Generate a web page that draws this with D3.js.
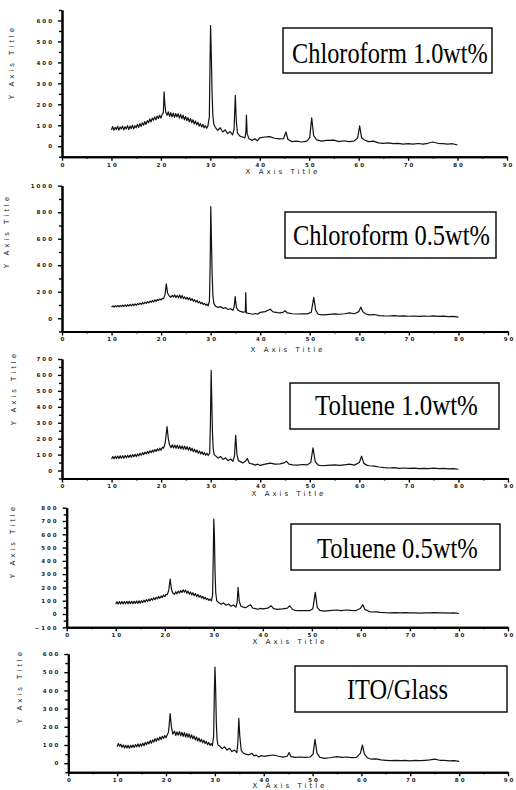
<!DOCTYPE html>
<html>
<head>
<meta charset="utf-8">
<script src="https://cdn.jsdelivr.net/npm/d3@7"></script>
<style>
  body { margin: 0; background: #fff; }
  svg { display: block; }
  .axis text { font-family: 'DejaVu Sans', sans-serif; font-size: 5.5px; font-weight: bold; fill: #222; letter-spacing: 2px; }
  .axis path.domain { stroke: #000; stroke-width: 2; }
  .axis .tick line { stroke: #000; stroke-width: 1.4; }
  .trace { fill: none; stroke: #111; stroke-width: 1.2; stroke-linejoin: round; }
  .title { font-family: 'DejaVu Sans', sans-serif; font-size: 7px; fill: #222; letter-spacing: 3px; }
  .legend-box { fill: none; stroke: #111; stroke-width: 1.5; }
  .legend-text { font-family: 'Liberation Serif', 'Times New Roman', serif; font-size: 29px; fill: #000; }
</style>
</head>
<body>
<svg id="chart" width="516" height="790"></svg>
<script>
// sample names, top to bottom
const sampleLabels = ['Chloroform 1.0wt%', 'Chloroform 0.5wt%', 'Toluene 1.0wt%', 'Toluene 0.5wt%', 'ITO/Glass']

// XRD patterns: [2theta, counts]
const chloroform10 = [[10,78],[10.25,94],[10.5,76],[10.75,90],[11,80],[11.25,95],[11.5,77],[11.75,92],[12,82],[12.25,96],[12.5,78],[12.75,93],[13,83],[13.25,98],[13.5,80],[13.75,96],[14,84],[14.25,100],[14.5,83],[14.75,98],[15,88],[15.25,104],[15.5,90],[15.75,108],[16,94],[16.25,112],[16.5,100],[16.75,118],[17,104],[17.25,122],[17.5,112],[17.75,130],[18,116],[18.25,134],[18.5,124],[18.75,140],[19,126],[19.25,144],[19.5,132],[19.75,148],[20,134],[20.25,152],[20.5,160],[20.65,259],[20.8,200],[21,162],[21.25,148],[21.5,164],[21.75,142],[22,160],[22.25,140],[22.5,158],[22.75,138],[23,156],[23.25,140],[23.5,155],[23.75,134],[24,152],[24.25,132],[24.5,148],[24.75,126],[25,142],[25.25,122],[25.5,136],[25.75,116],[26,132],[26.25,112],[26.5,126],[26.75,106],[27,120],[27.25,102],[27.5,114],[27.75,96],[28,108],[28.25,92],[28.5,104],[28.75,88],[29,98],[29.25,86],[29.5,96],[29.8,140],[29.95,420],[30.05,576],[30.2,430],[30.35,260],[30.5,150],[30.7,105],[31,90],[31.5,76],[32,88],[32.5,68],[33,78],[33.5,60],[34,70],[34.5,54],[34.8,80],[35.05,243],[35.25,120],[35.5,62],[36,48],[36.5,44],[37,40],[37.2,70],[37.3,148],[37.45,60],[37.8,36],[38.5,28],[39,36],[39.5,26],[40,40],[41,44],[42,46],[43,38],[44,35],[44.8,36],[45.3,68],[45.7,32],[46.5,22],[47.5,24],[48.5,20],[49.5,24],[50.1,40],[50.5,135],[50.9,50],[51.5,30],[52.5,24],[53.5,28],[55,29],[56,22],[57,26],[58,22],[59,24],[59.8,40],[60.2,97],[60.6,40],[61.2,30],[62,22],[63,24],[64,16],[65,14],[66,16],[67,12],[68,14],[69,10],[70,12],[71,10],[72,13],[73,10],[74,14],[75,20],[76,14],[77,12],[78,10],[79,12],[80,6]]

const chloroform05 = [[10,84],[10.25,94],[10.5,84],[10.75,95],[11,86],[11.25,96],[11.5,86],[11.75,97],[12,88],[12.25,98],[12.5,89],[12.75,100],[13,90],[13.25,102],[13.5,92],[13.75,104],[14,94],[14.25,106],[14.5,96],[14.75,108],[15,98],[15.25,110],[15.5,102],[15.75,114],[16,104],[16.25,118],[16.5,108],[16.75,122],[17,112],[17.25,126],[17.5,116],[17.75,130],[18,120],[18.25,134],[18.5,124],[18.75,138],[19,128],[19.25,142],[19.5,134],[19.75,146],[20,138],[20.25,150],[20.5,148],[20.8,180],[21.05,259],[21.3,190],[21.6,170],[22,158],[22.25,174],[22.5,160],[22.75,176],[23,156],[23.25,172],[23.5,154],[23.75,176],[24,150],[24.25,172],[24.5,148],[24.75,162],[25,144],[25.25,158],[25.5,140],[25.75,154],[26,134],[26.25,148],[26.5,128],[26.75,140],[27,122],[27.25,134],[27.5,116],[27.75,126],[28,110],[28.25,120],[28.5,104],[28.75,112],[29,98],[29.25,106],[29.5,94],[29.75,130],[29.9,400],[30.02,842],[30.15,600],[30.3,330],[30.45,170],[30.65,110],[31,90],[31.5,82],[32,88],[32.5,74],[33,80],[33.5,66],[34,72],[34.5,60],[34.75,90],[34.95,163],[35.2,80],[35.6,58],[36,52],[36.5,46],[37,48],[37.08,193],[37.2,40],[37.8,36],[38.5,30],[39,36],[39.5,30],[40,45],[41,50],[42,68],[42.6,48],[43.5,42],[44,40],[44.6,44],[45,57],[45.5,40],[46.5,34],[47.5,32],[48.5,34],[49.5,33],[50.3,45],[50.8,158],[51.2,60],[51.7,30],[52.5,25],[53.5,28],[55,33],[56,30],[57,34],[58,40],[59,34],[59.9,50],[60.3,83],[60.7,50],[61.2,34],[62,25],[63,28],[64,20],[65,18],[66,17],[67,20],[68,16],[69,18],[70,15],[71,17],[72,14],[73,16],[74,15],[75,18],[76,14],[77,16],[78,12],[79,14],[80,8]]

const toluene10 = [[10,72],[10.25,88],[10.5,74],[10.75,90],[11,75],[11.25,91],[11.5,76],[11.75,92],[12,77],[12.25,93],[12.5,78],[12.75,94],[13,80],[13.25,96],[13.5,82],[13.75,98],[14,84],[14.25,100],[14.5,86],[14.75,102],[15,88],[15.25,104],[15.5,92],[15.75,108],[16,96],[16.25,112],[16.5,100],[16.75,116],[17,104],[17.25,120],[17.5,108],[17.75,124],[18,112],[18.25,128],[18.5,116],[18.75,132],[19,120],[19.25,136],[19.5,124],[19.75,140],[20,128],[20.25,146],[20.5,140],[20.8,170],[21.2,275],[21.45,200],[21.7,160],[22,144],[22.25,162],[22.5,142],[22.75,160],[23,140],[23.25,158],[23.5,138],[23.75,156],[24,136],[24.25,154],[24.5,134],[24.75,152],[25,132],[25.25,150],[25.5,128],[25.75,146],[26,124],[26.25,140],[26.5,118],[26.75,134],[27,114],[27.25,128],[27.5,108],[27.75,122],[28,104],[28.25,118],[28.5,100],[28.75,112],[29,96],[29.25,108],[29.5,94],[29.8,110],[29.95,300],[30.1,628],[30.22,450],[30.35,250],[30.5,140],[30.7,100],[31,92],[31.5,78],[32,88],[32.5,70],[33,80],[33.5,62],[34,72],[34.5,58],[34.8,90],[35.05,221],[35.3,100],[35.6,62],[36,56],[36.5,48],[37,58],[37.4,75],[37.8,46],[38.5,40],[39,34],[39.5,40],[40,32],[41,40],[42,47],[43,40],[44,42],[44.8,48],[45.3,58],[45.8,40],[46.5,36],[47.5,34],[48.5,38],[49.5,36],[50.2,50],[50.65,143],[51.1,55],[51.7,34],[52.5,30],[53.5,32],[55,36],[56,32],[57,36],[58,40],[59,34],[60,50],[60.45,90],[60.9,45],[61.5,34],[62,30],[63,28],[64,22],[65,18],[66,16],[67,18],[68,14],[69,16],[70,13],[71,15],[72,12],[73,14],[74,12],[75,15],[76,12],[77,14],[78,10],[79,12],[80,8]]

const toluene05 = [[10,74],[10.25,92],[10.5,76],[10.75,94],[11,76],[11.25,94],[11.5,76],[11.75,94],[12,77],[12.25,95],[12.5,77],[12.75,95],[13,78],[13.25,96],[13.5,78],[13.75,96],[14,80],[14.25,98],[14.5,80],[14.75,99],[15,82],[15.25,100],[15.5,86],[15.75,104],[16,90],[16.25,108],[16.5,94],[16.75,112],[17,98],[17.25,116],[17.5,104],[17.75,122],[18,108],[18.25,126],[18.5,114],[18.75,132],[19,118],[19.25,136],[19.5,124],[19.75,142],[20,130],[20.25,148],[20.5,146],[20.8,175],[21.1,263],[21.35,190],[21.6,160],[22,148],[22.25,168],[22.5,152],[22.75,172],[23,158],[23.25,176],[23.5,162],[23.75,182],[24,164],[24.25,180],[24.5,156],[24.75,172],[25,150],[25.25,166],[25.5,144],[25.75,160],[26,138],[26.25,154],[26.5,132],[26.75,146],[27,126],[27.25,140],[27.5,120],[27.75,132],[28,114],[28.25,126],[28.5,108],[28.75,118],[29,102],[29.25,112],[29.5,98],[29.75,140],[29.9,450],[30,714],[30.12,600],[30.25,320],[30.4,160],[30.6,100],[31,86],[31.5,74],[32,84],[32.5,66],[33,76],[33.5,58],[34,68],[34.5,52],[34.75,85],[34.95,200],[35.2,95],[35.5,60],[36,52],[36.5,48],[37,60],[37.5,70],[37.9,45],[38.5,40],[39,36],[39.5,42],[40,38],[41,44],[41.7,62],[42.2,40],[43,35],[44,38],[45,44],[45.5,62],[46,36],[46.5,28],[47.5,25],[48.5,26],[49.5,25],[50.2,40],[50.7,163],[51.1,50],[51.6,28],[52.5,22],[53.5,26],[55,30],[56,26],[57,30],[58,27],[59,26],[59.9,42],[60.4,70],[60.8,35],[61.5,22],[62,15],[63,16],[64,12],[65,10],[66,9],[67,11],[68,8],[69,10],[70,8],[71,9],[72,7],[73,9],[74,8],[75,10],[76,8],[77,9],[78,6],[79,8],[80,4]]

const itoGlass = [[10,90],[10.25,108],[10.5,94],[10.75,104],[11,88],[11.25,100],[11.5,84],[11.75,98],[12,84],[12.25,98],[12.5,82],[12.75,98],[13,86],[13.25,100],[13.5,86],[13.75,102],[14,90],[14.25,106],[14.5,90],[14.75,106],[15,94],[15.25,110],[15.5,96],[15.75,114],[16,102],[16.25,118],[16.5,106],[16.75,124],[17,110],[17.25,128],[17.5,116],[17.75,134],[18,120],[18.25,138],[18.5,126],[18.75,144],[19,130],[19.25,148],[19.5,136],[19.75,152],[20,140],[20.25,156],[20.5,170],[20.65,210],[20.85,273],[21.1,200],[21.4,160],[21.75,176],[22,152],[22.25,172],[22.5,154],[22.75,174],[23,150],[23.25,170],[23.5,148],[23.75,168],[24,144],[24.25,164],[24.5,142],[24.75,160],[25,138],[25.25,156],[25.5,134],[25.75,150],[26,128],[26.25,144],[26.5,122],[26.75,138],[27,118],[27.25,132],[27.5,112],[27.75,126],[28,108],[28.25,120],[28.5,102],[28.75,114],[29,98],[29.25,108],[29.5,96],[29.75,150],[29.9,400],[30.02,528],[30.15,420],[30.3,220],[30.45,130],[30.65,100],[31,94],[31.5,80],[32,90],[32.5,72],[33,82],[33.5,64],[34,72],[34.5,58],[34.7,110],[34.9,246],[35.1,150],[35.4,70],[35.8,56],[36.3,50],[37,46],[37.6,54],[38,40],[38.5,44],[39,34],[39.5,42],[40,38],[41,42],[42,45],[43,38],[44,33],[44.8,38],[45.2,58],[45.6,36],[46.5,32],[47.5,34],[48.5,32],[49.5,34],[50.1,50],[50.5,131],[50.9,55],[51.5,32],[52.5,27],[53.5,30],[55,36],[56,32],[57,34],[58,31],[59,32],[59.8,55],[60.2,100],[60.6,50],[61.2,30],[62,22],[63,24],[64,18],[65,16],[66,14],[67,16],[68,14],[69,15],[70,13],[71,15],[72,14],[73,16],[74,18],[75,22],[76,16],[77,15],[78,13],[79,14],[80,10]]

const series = [chloroform10, chloroform05, toluene10, toluene05, itoGlass]

// axes
const xTicks = [0, 10, 20, 30, 40, 50, 60, 70, 80, 90]
const xMinorTicks = [5, 15, 25, 35, 45, 55, 65, 75, 85]
const yDomains = [[-50, 650], [-100, 1000], [-50, 700], [-100, 800], [-50, 600]]
const yTicks = [
  [0, 100, 200, 300, 400, 500, 600],
  [0, 200, 400, 600, 800, 1000],
  [0, 100, 200, 300, 400, 500, 600, 700],
  [-100, 0, 100, 200, 300, 400, 500, 600, 700, 800],
  [0, 100, 200, 300, 400, 500, 600]
]
const yMinorTicks = [
  [-50, 50, 150, 250, 350, 450, 550, 650],
  [-100, 100, 300, 500, 700, 900],
  [-50, 50, 150, 250, 350, 450, 550, 650],
  [-50, 50, 150, 250, 350, 450, 550, 650, 750],
  [-50, 50, 150, 250, 350, 450, 550]
]

// where each scanned panel sits on the page
const layout = [
  { x0: 62, x90: 507, top: 10, bottom: 156.7, box: [283, 28, 209, 45], textX: 292, textW: 196, baseline: 63, xTitle: [283, 174], yTitle: [12, 62] },
  { x0: 62, x90: 508, top: 185.7, bottom: 331.5, box: [285, 212, 211, 46], textX: 293, textW: 197, baseline: 245, xTitle: [288, 352], yTitle: [7, 231] },
  { x0: 62, x90: 508, top: 359, bottom: 478.5, box: [290, 383, 209, 46], textX: 315, textW: 163, baseline: 415, xTitle: [289, 496], yTitle: [14, 388] },
  { x0: 66.7, x90: 508, top: 507.7, bottom: 627.3, box: [291, 524, 209, 46], textX: 317, textW: 161, baseline: 558, xTitle: [290, 644], yTitle: [13, 541] },
  { x0: 68.3, x90: 508, top: 654, bottom: 772.3, box: [295, 666, 212, 46], textX: 347, textW: 101, baseline: 699, xTitle: [290, 788], yTitle: [20, 686] }
]

const svg = d3.select('#chart')

function panel (i) {
  const L = layout[i]
  const x = d3.scaleLinear().domain([0, 90]).range([L.x0, L.x90])
  const y = d3.scaleLinear().domain(yDomains[i]).range([L.bottom, L.top])
  const g = svg.append('g')

  // minor ticks first, then the major axis on top
  g.append('g').attr('class', 'axis').attr('transform', `translate(0,${L.bottom})`)
    .call(d3.axisBottom(x).tickValues(xMinorTicks).tickSize(2).tickFormat('').tickSizeOuter(0))
  g.append('g').attr('class', 'axis').attr('transform', `translate(0,${L.bottom})`)
    .call(d3.axisBottom(x).tickValues(xTicks).tickSize(4).tickPadding(2).tickSizeOuter(0))
    .selectAll('text').attr('dx', 1)
  g.append('g').attr('class', 'axis').attr('transform', `translate(${L.x0},0)`)
    .call(d3.axisLeft(y).tickValues(yMinorTicks[i]).tickSize(3).tickFormat('').tickSizeOuter(0))
  g.append('g').attr('class', 'axis').attr('transform', `translate(${L.x0},0)`)
    .call(d3.axisLeft(y).tickValues(yTicks[i]).tickSize(4).tickPadding(4).tickFormat(d3.format('d')).tickSizeOuter(0))

  const line = d3.line().x(d => x(d[0])).y(d => y(d[1]))
  g.append('path').datum(series[i]).attr('class', 'trace').attr('d', line)

  g.append('text').attr('class', 'title')
    .attr('x', L.xTitle[0]).attr('y', L.xTitle[1])
    .attr('text-anchor', 'middle').text('X Axis Title')
  g.append('text').attr('class', 'title')
    .attr('transform', `translate(${L.yTitle[0]},${L.yTitle[1]}) rotate(-90)`)
    .attr('text-anchor', 'middle').attr('dy', '0.35em').text('Y Axis Title')

  g.append('rect').attr('class', 'legend-box')
    .attr('x', L.box[0]).attr('y', L.box[1]).attr('width', L.box[2]).attr('height', L.box[3])
  // the scanned serif label is squeezed sideways: scale it to the measured width
  const label = g.append('g').attr('transform', `translate(${L.textX},${L.baseline})`)
  const txt = label.append('text').attr('class', 'legend-text').text(sampleLabels[i])
  const natural = txt.node().getComputedTextLength()
  label.attr('transform', `translate(${L.textX},${L.baseline}) scale(${L.textW / natural},1)`)
}

series.forEach((s, i) => panel(i))
</script>
</body>
</html>
